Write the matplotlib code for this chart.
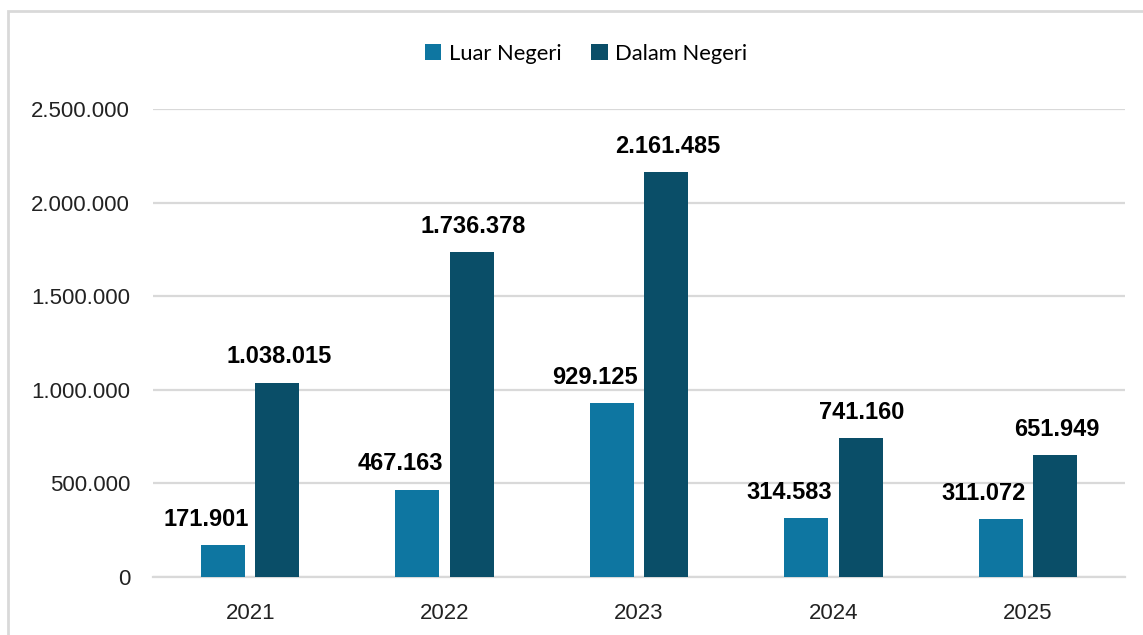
import numpy as np
import matplotlib.pyplot as plt
from matplotlib.patches import Rectangle

years = ['2021', '2022', '2023', '2024', '2025']
luar_negeri = [171901, 467163, 929125, 314583, 311072]
dalam_negeri = [1038015, 1736378, 2161485, 741160, 651949]
yticks = [0, 500000, 1000000, 1500000, 2000000, 2500000]


def fmt(v):
    # dot as thousands separator
    return '{:,}'.format(v).replace(',', '.')


c_luar = '#0E76A1'
c_dalam = '#0A4E68'
grid_c = '#D9D9D9'

fig = plt.figure(figsize=(11.43, 6.35), dpi=100, facecolor='w')
ax = fig.add_axes([153/1143, 1-577/635, (1125-153)/1143, (577-109)/635])

x = np.arange(len(years))
w = 0.226
off = 0.14
b1 = ax.bar(x - off, luar_negeri, w, color=c_luar, label='Luar Negeri', zorder=3)
b2 = ax.bar(x + off, dalam_negeri, w, color=c_dalam, label='Dalam Negeri', zorder=3)

for xi, v in zip(x, luar_negeri):
    ax.annotate(fmt(v), (xi - off, v), xytext=(-12, 18.5), textcoords='offset points',
                ha='center', va='center', fontsize=17, fontweight='bold',
                family='Liberation Sans')
for xi, v in zip(x, dalam_negeri):
    ax.annotate(fmt(v), (xi + off, v), xytext=(1, 18.5), textcoords='offset points',
                ha='center', va='center', fontsize=17, fontweight='bold',
                family='Liberation Sans')

ax.set_xlim(-0.5, len(years) - 0.5)
ax.set_ylim(0, 2500000)
ax.set_yticks(yticks)
ax.set_yticklabels([fmt(v) for v in yticks], family='Liberation Sans', fontsize=16, color='#222222')
ax.set_xticks(x)
ax.set_xticklabels(years, family='Liberation Sans', fontsize=16, color='#222222')
ax.tick_params(axis='y', length=0, pad=16.5)
ax.tick_params(axis='x', length=0, pad=18.5)
ax.grid(axis='y', color=grid_c, linewidth=1.6, zorder=0)
ax.set_axisbelow(True)
for s in ['top', 'right', 'left']:
    ax.spines[s].set_visible(False)
ax.spines['bottom'].set_color(grid_c)
ax.spines['bottom'].set_linewidth(1.6)

fig.legend(handles=[b1, b2], loc='center', bbox_to_anchor=(586/1143, 1-54/635),
           ncol=2, frameon=False, prop={'family': 'Lato', 'size': 15.8},
           handlelength=0.75, handleheight=0.75, handletextpad=0.35, columnspacing=1.35)

# chart frame
fig.patches.append(Rectangle((8/1143, -0.1), 1.2, 1-11/635 + 0.1, transform=fig.transFigure,
                             fill=False, edgecolor='#D9D9D9', linewidth=2, clip_on=False))

fig.savefig('out.png', dpi=100)
